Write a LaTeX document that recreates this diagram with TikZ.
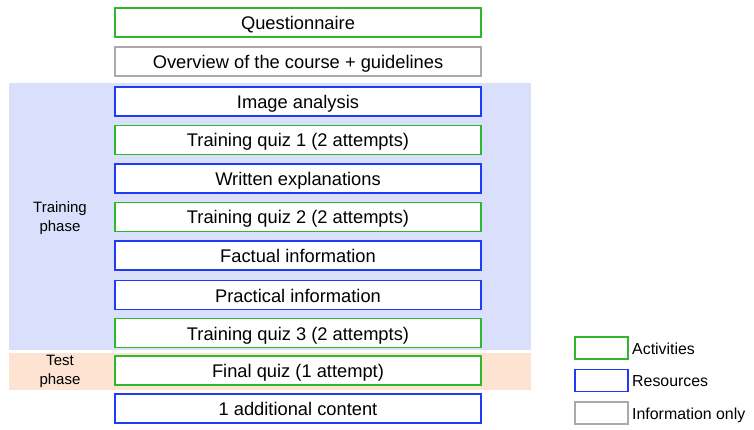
\documentclass[tikz,border=0pt]{standalone}
\usepackage{fontspec}
\setmainfont{Liberation Sans}
\definecolor{actc}{HTML}{2EB82E}
\definecolor{resc}{HTML}{1E3CF5}
\definecolor{infc}{HTML}{AAAAAA}
\definecolor{trainbg}{HTML}{DAE0FB}
\definecolor{testbg}{HTML}{FCE3D2}
\begin{document}
\begin{tikzpicture}[x=1pt,y=-1pt,
  box/.style={draw,line width=1.6pt,fill=white,minimum width=366pt,minimum height=29pt,inner sep=0pt,text height=14pt,text depth=0pt,font=\fontsize{18.3}{20}\selectfont,anchor=center},
  act/.style={box,draw=actc},
  res/.style={box,draw=resc},
  inf/.style={box,draw=infc},
  lgd/.style={draw,line width=1.6pt,fill=white,minimum width=53pt,minimum height=22pt,inner sep=0pt},
  lgdtxt/.style={anchor=west,inner sep=0pt,text height=12pt,text depth=0pt,font=\fontsize{15.9}{18}\selectfont},
  phase/.style={align=center,font=\fontsize{15}{18}\selectfont,inner sep=0pt}]
\useasboundingbox (0,0) rectangle (754,430);
\fill[white] (0,0) rectangle (754,430);
\fill[trainbg] (9,83.5) rectangle (531,349.5);
\fill[testbg] (9,352.5) rectangle (531,389.5);
\node[phase] (tp) at (60,218) {Training\\[1pt]phase};
\node[phase] (sp) at (60,371) {Test\\[1pt]phase};
\node[act] (q) at (298,22.5) {Questionnaire};
\node[inf] (o) at (298,61.5) {Overview of the course + guidelines};
\node[res] (ia) at (298,101.5) {Image analysis};
\node[act] (t1) at (298,140) {Training quiz 1 (2 attempts)};
\node[res] (we) at (298,178.5) {Written explanations};
\node[act] (t2) at (298,217) {Training quiz 2 (2 attempts)};
\node[res] (fi) at (298,255.5) {Factual information};
\node[res] (pi) at (298,295) {Practical information};
\node[act] (t3) at (298,333) {Training quiz 3 (2 attempts)};
\node[act] (fq) at (298,370.5) {Final quiz (1 attempt)};
\node[res] (ac) at (298,408.5) {1 additional content};
\node[lgd,draw=actc] (la) at (601.5,348) {};
\node[lgd,draw=resc] (lr) at (601.5,380.5) {};
\node[lgd,draw=infc] (li) at (601.5,413) {};
\node[lgdtxt] (ta) at (632,348) {Activities};
\node[lgdtxt] (tr) at (632,380.5) {Resources};
\node[lgdtxt] (ti) at (632,413) {Information only};
\end{tikzpicture}
\end{document}
